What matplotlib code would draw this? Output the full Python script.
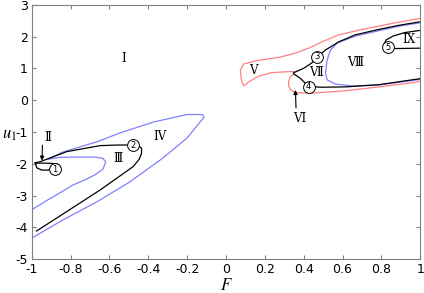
import matplotlib
matplotlib.use("Agg")
from matplotlib import pyplot as plt

plt.rcParams['mathtext.fontset'] = 'stix'

# blue boundary, lower left (outer branch -> cusp -> inner loop)
blue1_F = [-1.0, -0.84, -0.665, -0.495, -0.325, -0.201, -0.134, -0.113, -0.118, -0.129, -0.201,
           -0.376, -0.546, -0.665, -0.84, -0.918, -0.856, -0.789, -0.675, -0.634, -0.619,
           -0.634, -0.675, -0.727, -0.789, -0.84, -0.918, -0.995]
blue1_u = [-4.34, -3.77, -3.2, -2.57, -1.82, -1.19, -0.69, -0.53, -0.47, -0.45, -0.45,
           -0.69, -1.03, -1.31, -1.63, -1.86, -1.8, -1.79, -1.79, -1.83, -1.94,
           -2.17, -2.35, -2.51, -2.67, -2.86, -3.14, -3.43]

# black boundary, lower left
black1_F = [-0.976, -0.821, -0.649, -0.478, -0.446, -0.435, -0.435, -0.45, -0.481, -0.56,
            -0.649, -0.821, -0.924, -0.959, -0.985]
black1_u = [-4.12, -3.51, -2.83, -2.09, -1.85, -1.67, -1.51, -1.43, -1.41, -1.41,
            -1.43, -1.62, -1.86, -1.94, -1.97]

# small black loop (region II)
loop_F = [-0.979, -0.933, -0.897, -0.866, -0.856, -0.881, -0.918, -0.948, -0.974, -0.979, -0.979]
loop_u = [-1.98, -1.98, -1.99, -2.01, -2.07, -2.17, -2.2, -2.2, -2.13, -2.04, -1.98]

# red boundary, upper part (region V)
red_up_F = [1.0, 0.873, 0.701, 0.581, 0.495, 0.426, 0.357, 0.272, 0.151, 0.091, 0.074,
            0.079, 0.091, 0.117, 0.169, 0.237, 0.323, 0.349]
red_up_u = [2.58, 2.44, 2.23, 2.06, 1.84, 1.64, 1.48, 1.35, 1.24, 1.14, 0.95,
            0.64, 0.45, 0.58, 0.76, 0.87, 0.9, 0.9]

# red boundary, lower part (region VI)
red_lo_F = [0.349, 0.331, 0.322, 0.324, 0.336, 0.36, 0.443, 0.615, 0.787, 0.959, 1.0]
red_lo_u = [0.83, 0.73, 0.58, 0.42, 0.31, 0.24, 0.22, 0.3, 0.42, 0.55, 0.6]

# black boundaries, upper right
black_up_F = [0.349, 0.401, 0.443, 0.469, 0.512, 0.581, 0.666, 0.787, 0.89, 1.0]
black_up_u = [0.87, 1.01, 1.18, 1.37, 1.58, 1.84, 2.06, 2.23, 2.36, 2.47]
black_lo_F = [0.349, 0.383, 0.409, 0.426, 0.495, 0.615, 0.787, 1.0]
black_lo_u = [0.83, 0.69, 0.53, 0.43, 0.41, 0.42, 0.49, 0.68]

# blue boundary of region VIII
blue2_F = [1.0, 0.89, 0.787, 0.666, 0.572, 0.538, 0.521, 0.512, 0.521, 0.563, 0.649, 0.787, 0.959, 1.0]
blue2_u = [2.44, 2.33, 2.19, 2.02, 1.8, 1.58, 1.27, 0.85, 0.64, 0.51, 0.45, 0.48, 0.62, 0.66]

# black boundary of region IX
black_ix_F = [1.0, 0.92, 0.86, 0.825, 0.815, 0.822, 0.845, 0.9, 1.0]
black_ix_u = [2.2, 2.13, 2.02, 1.9, 1.78, 1.68, 1.63, 1.63, 1.64]

regions = ["I", "Ⅱ", "Ⅲ", "IV", "V", "VI", "Ⅶ", "Ⅷ", "IX"]
region_F = [-0.529, -0.916, -0.555, -0.34, 0.141, 0.378, 0.464, 0.666, 0.942]
region_u = [1.32, -1.18, -1.83, -1.15, 0.93, -0.57, 0.87, 1.18, 1.9]

points = ["1", "2", "3", "4", "5"]
point_F = [-0.881, -0.481, 0.469, 0.426, 0.835]
point_u = [-2.17, -1.41, 1.37, 0.43, 1.67]

blue = "#8080ff"
red = "#ff8080"

fig = plt.figure(figsize=(4.24, 2.93), dpi=100)
ax = fig.add_axes([0.075, 0.116, 0.916, 0.867])

ax.plot(blue1_F, blue1_u, color=blue, lw=0.9)
ax.plot(blue2_F, blue2_u, color=blue, lw=0.9)
ax.plot([0.347, 0.347], [0.82, 0.9], color=blue, lw=0.9)
ax.plot(red_up_F, red_up_u, color=red, lw=0.9)
ax.plot(red_lo_F, red_lo_u, color=red, lw=0.9)
ax.plot(black1_F, black1_u, color="black", lw=0.9)
ax.plot(loop_F, loop_u, color="black", lw=0.9)
ax.plot(black_up_F, black_up_u, color="black", lw=0.9)
ax.plot(black_lo_F, black_lo_u, color="black", lw=0.9)
ax.plot(black_ix_F, black_ix_u, color="black", lw=0.9)

for name, f, u in zip(regions, region_F, region_u):
    ax.text(f, u, name, ha="center", va="center", fontsize=8.5,
            family=["DejaVu Serif", "Noto Sans CJK SC"])

# circled point numbers
ax.plot(point_F, point_u, "o", ms=8.5, mfc="white", mec="black", mew=0.7, zorder=4)
for name, f, u in zip(points, point_F, point_u):
    ax.text(f, u, name, ha="center", va="center", fontsize=6, zorder=5)

# arrows to II and VI
ax.annotate("", xy=(-0.948, -1.99), xytext=(-0.945, -1.33),
            arrowprops=dict(arrowstyle="-|>", color="black", lw=0.8, mutation_scale=6))
ax.annotate("", xy=(0.357, 0.41), xytext=(0.361, -0.33),
            arrowprops=dict(arrowstyle="-|>", color="black", lw=0.8, mutation_scale=6))

ax.set_xlim(-1, 1)
ax.set_ylim(-5, 3)
ax.set_xticks([-1, -0.8, -0.6, -0.4, -0.2, 0, 0.2, 0.4, 0.6, 0.8, 1])
ax.set_xticklabels(["-1", "-0.8", "-0.6", "-0.4", "-0.2", "0", "0.2", "0.4", "0.6", "0.8", "1"])
ax.set_yticks([-5, -4, -3, -2, -1, 0, 1, 2, 3])
ax.set_yticklabels(["-5", "-4", "-3", "-2", "-1", "0", "1", "2", "3"])
ax.tick_params(direction="in", top=True, right=True, length=3, labelsize=9,
               color="#808080", pad=3)
for s in ax.spines.values():
    s.set_color("#808080")
    s.set_linewidth(0.8)

ax.set_xlabel("$F$", fontsize=12, labelpad=0)
ax.set_ylabel("$u_1$", fontsize=12, rotation=0)
ax.yaxis.set_label_coords(-0.058, 0.455)

fig.savefig("out.png", dpi=100)
